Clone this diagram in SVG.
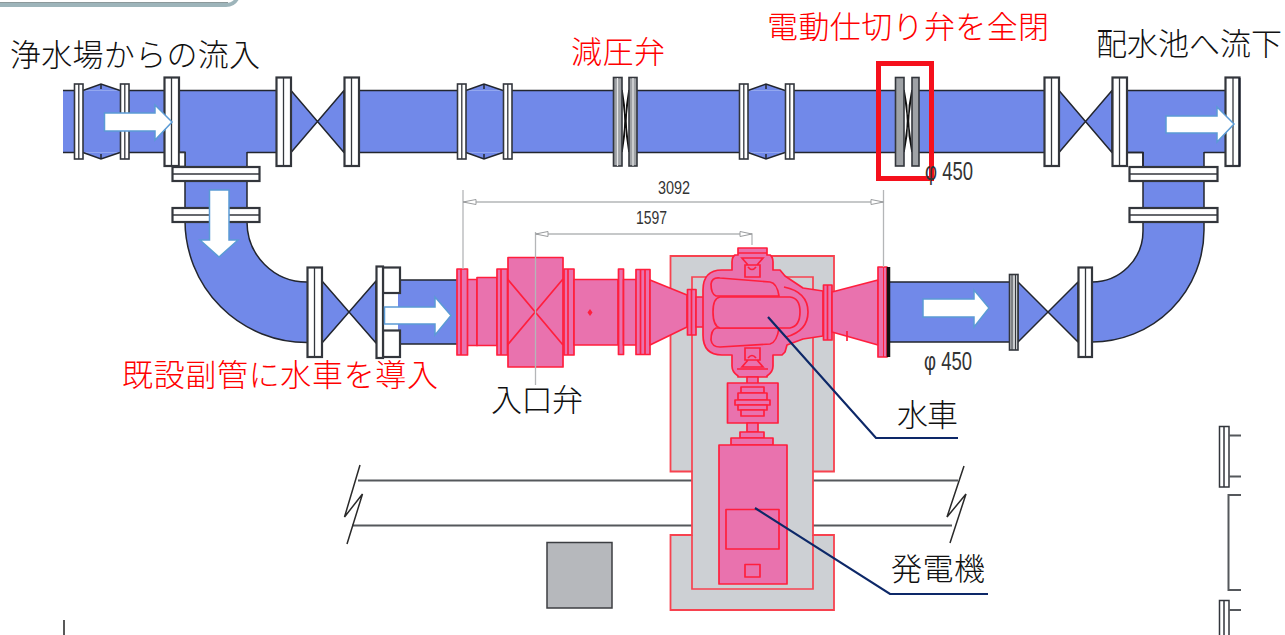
<svg xmlns="http://www.w3.org/2000/svg" width="1285" height="635" viewBox="0 0 1285 635">
<style>
.t{font-family:"Noto Sans CJK JP","Noto Sans CJK SC",sans-serif;font-size:31px;font-weight:300;fill:#111}
.r{fill:#f00}
.d{font-family:"Liberation Sans",sans-serif;font-size:18px;fill:#333}
.p{fill:#7189e9;stroke:none}
.e{fill:none;stroke:#23262e;stroke-width:1.5}
.v{fill:#7189e9;stroke:#23262e;stroke-width:1.5;stroke-linejoin:round}
.f{fill:#fff;stroke:#33363c;stroke-width:1.6}
.s{fill:#fff;stroke:#33363c;stroke-width:2.2}
.c{fill:#9fa2a6;stroke:#33363c;stroke-width:1.6}
.m{stroke:#33363c;stroke-width:1.3;fill:none}
.a{fill:#fff;stroke:#5b9bd5;stroke-width:1.5}
.k{fill:#e972ae;stroke:#ff1f3d;stroke-width:1.7;stroke-linejoin:round}
.n{fill:none;stroke:#ff1f3d;stroke-width:1.7}
.b{fill:#cdd0d4;stroke:#f7424f;stroke-width:1.8}
.g{fill:none;stroke:#b4b6b8;stroke-width:1.3}
.h{fill:#fff;stroke:#9a9c9e;stroke-width:1}
.l{fill:none;stroke:#0d2868;stroke-width:2.2}
.w{fill:none;stroke:#55585c;stroke-width:2}
.z{fill:none;stroke:#2a2a2a;stroke-width:1.5}
</style>

<g id="header-frame">
<path d="M-5,3 H226 Q233,3 236,-3 L240,-3 Q236,7 226,7 H-5Z" fill="#9db4ba"/>
<path d="M-5,2.500 H228" fill="none" stroke="#6f7f82" stroke-width="0.800"/>
</g>

<g id="beam">
<path class="w" d="M358,480.500 H692 M813,480.500 H958 M352,525.500 H692 M813,525.500 H952"/>
<path class="z" d="M360,465 L344.500,517 L362.500,494 L347,544"/>
<path class="z" d="M964,466 L947,517 L966,494 L950,543"/>
</g>

<g id="equipment-base">
<path class="b" d="M670.500,256 H834 V471.500 H813 V535 H834 V610 H670.500 V535 H692 V471.500 H670.500Z"/>
<path class="n" style="stroke:#f7424f" d="M692,471.500 V277 H813 V471.500 M692,535 V589 H813 V535"/>
</g>

<g id="box-square"><rect x="547" y="542.500" width="65" height="65.500" fill="#b6b8bc" stroke="#3c3e42" stroke-width="1.500"/></g>

<g id="main-pipe">
<rect class="p" x="63" y="90.500" width="228" height="62"/>
<rect class="p" x="344" y="90.500" width="269" height="62"/>
<rect class="p" x="637" y="90.500" width="258" height="62"/>
<rect class="p" x="919" y="90.500" width="140" height="62"/>
<rect class="p" x="1112" y="90.500" width="116" height="62"/>
<path class="p" d="M83,90.500 L101,84 L120,90.500Z M83,152.500 L101,159 L120,152.500Z M466,90.500 L484,84 L503,90.500Z M466,152.500 L484,159 L503,152.500Z M748,90.500 L766,84 L785,90.500Z M748,152.500 L766,159 L785,152.500Z"/>
<path class="e" d="M63,90.500 H74 M129,90.500 H291 M344,90.500 H457 M512,90.500 H613 M637,90.500 H739 M794,90.500 H895 M919,90.500 H1059 M1112,90.500 H1228 M63,152.500 H74 M129,152.500 H185 M247,152.500 H291 M344,152.500 H457 M512,152.500 H613 M637,152.500 H739 M794,152.500 H895 M919,152.500 H1059 M1112,152.500 H1143 M1204,152.500 H1228"/>
<path class="e" d="M83,90.500 L101,84 L120,90.500 M83,152.500 L101,159 L120,152.500 M466,90.500 L484,84 L503,90.500 M466,152.500 L484,159 L503,152.500 M748,90.500 L766,84 L785,90.500 M748,152.500 L766,159 L785,152.500"/>
<path class="e" d="M101,84 V89 M101,154 V159 M484,84 V89 M484,154 V159 M766,84 V89 M766,154 V159"/>
</g>

<g id="left-elbow">
<path class="p" d="M185,152 H247 V222 A60,60 0 0 0 307,282 V342.500 A122,122 0 0 1 185,220.500Z"/>
<path class="e" d="M185,152 V220.500 A122,122 0 0 0 307,342.500 M247,152 V222 A60,60 0 0 0 307,282"/>
<path class="e" d="M179,152.500 H185 V166"/>
</g>

<g id="right-elbow">
<path class="p" d="M1143,152 H1204 V230 A112,112 0 0 1 1092,342 V282 A51,51 0 0 0 1143,231Z"/>
<path class="e" d="M1204,152 V230 A112,112 0 0 1 1092,342 M1143,152 V231 A51,51 0 0 1 1092,282"/>
<path class="e" d="M1126,152.500 H1143 V166"/>
</g>

<g id="outlet-pipe">
<rect class="p" x="888" y="282" width="122" height="60"/>
<path class="e" d="M888,282 H1010 M888,342 H1010"/>
</g>

<g id="inlet-pipe">
<rect class="p" x="398" y="280" width="60" height="64"/>
<path class="e" d="M398,280 H458 M398,344 H458"/>
</g>

<g id="valves">
<path class="v" d="M291,90.500 L344,152.500 V90.500 L291,152.500Z"/>
<path class="v" d="M1059,90.500 L1112,152.500 V90.500 L1059,152.500Z"/>
<path class="v" d="M322,281 L376,343 V281 L322,343Z"/>
<path class="v" d="M1018,282 L1078,342 V282 L1018,342Z"/>
</g>

<g id="pressure-reducing-valve">
<path class="z" style="stroke:#111" d="M622,90 L629,152 M629,90 L622,152 M622,90 Q628,121 622,152 M629,90 Q623,121 629,152"/>
<rect class="c" x="613.500" y="77.500" width="8.500" height="88.500"/><rect class="c" x="629" y="77.500" width="8" height="88.500"/>
<path d="M617.500,78 V166 M633,78 V166" stroke="#e8e8e8" stroke-width="1.200"/>
</g>

<g id="shutoff-valve">
<path class="z" style="stroke:#111" d="M904,90 L912,152 M912,90 L904,152 M904,90 Q911,121 904,152 M912,90 Q905,121 912,152"/>
<rect class="c" x="895.500" y="77.500" width="8.500" height="88.500"/><rect class="c" x="912" y="77.500" width="7" height="88.500"/>
</g>

<g id="flanges">
<rect class="f" x="74.500" y="84" width="8.500" height="75"/><rect class="f" x="120.500" y="84" width="8.500" height="75"/>
<rect class="f" x="457.500" y="84" width="8.500" height="75"/><rect class="f" x="503.500" y="84" width="8.500" height="75"/>
<rect class="f" x="739.500" y="84" width="8.500" height="75"/><rect class="f" x="785.500" y="84" width="8.500" height="75"/>
<path class="m" d="M78.800,84 V159 M124.800,84 V159 M461.800,84 V159 M507.800,84 V159 M743.800,84 V159 M789.800,84 V159"/>
<rect class="s" x="164.500" y="77.500" width="14.500" height="88.500"/><path class="m" d="M171.500,78 V166"/>
<rect class="f" x="179" y="152.500" width="6" height="14"/>
<rect class="s" x="276.500" y="77.500" width="14.500" height="88.500"/><path class="m" d="M283.500,78 V166"/>
<rect class="s" x="344.500" y="77.500" width="14.500" height="88.500"/><path class="m" d="M351.500,78 V166"/>
<rect class="s" x="1044.500" y="77.500" width="14.500" height="88.500"/><path class="m" d="M1051.500,78 V166"/>
<rect class="s" x="1112.500" y="77.500" width="14.500" height="88.500"/><path class="m" d="M1119.500,78 V166"/>
<rect class="s" x="1225.500" y="77.500" width="14" height="88.500"/><path class="m" d="M1233,78 V166"/><path d="M1239.500,78 V166" stroke="#1d2230" stroke-width="2"/>
<rect class="s" x="172.500" y="167" width="87" height="14"/><path class="m" d="M173,174 H259"/>
<rect class="s" x="172.500" y="208" width="87" height="14"/><path class="m" d="M173,215 H259"/>
<rect class="s" x="1129.500" y="167" width="88" height="14"/><path class="m" d="M1130,174 H1217"/>
<rect class="s" x="1129.500" y="208" width="88" height="14"/><path class="m" d="M1130,215 H1217"/>
<rect class="s" x="307.500" y="267.500" width="14.500" height="89.500"/><path class="m" d="M314.500,268 V357"/>
<rect class="s" x="383" y="267.500" width="17" height="25.500"/><rect class="s" x="383" y="330.500" width="17" height="26.500"/>
<rect class="s" x="376.500" y="266.500" width="6.500" height="91.500"/>
<rect class="c" style="fill:#c9cbcd" x="1009.500" y="274.500" width="8.500" height="75.500"/><path d="M1012,275 V350 M1015.500,275 V350" stroke="#33363c" stroke-width="1"/>
<rect class="s" x="1078.500" y="267.500" width="13.500" height="89.500"/><path class="m" d="M1085.500,268 V357"/>
</g>

<g id="inlet-valve">
<rect class="k" x="467" y="279.500" width="10" height="66"/>
<rect class="k" x="477" y="277.500" width="20" height="68"/>
<rect class="k" x="457" y="269" width="10.500" height="86"/>
<path class="n" d="M461,269 V355"/>
<rect class="k" x="497" y="269" width="10.500" height="86"/>
<path class="n" d="M501,269 V355"/>
<rect class="k" x="508" y="257.500" width="55" height="109.500"/>
<path class="n" d="M507.500,279 L563,345 M563,279 L507.500,345"/>
<rect class="k" x="564" y="269" width="10" height="86"/>
<path class="n" d="M568,269 V355"/>
<rect class="k" x="574" y="279.500" width="44" height="65.500"/>
<rect class="k" x="618.500" y="269" width="5" height="85.500"/>
<rect class="k" x="623.500" y="279.500" width="13" height="65.500"/>
<rect class="k" x="636" y="269.500" width="14" height="85"/>
<path class="n" d="M640.500,270 V354 M645,270 V354"/>
<path d="M590,309 L592.500,312.500 L590,316 L587.500,312.500Z" fill="#ff1f3d"/>
</g>

<g id="turbine">
<path class="k" d="M650,280 L687,295 V327 L650,345Z"/>
<rect class="k" x="687.500" y="289.500" width="8.500" height="45.500"/>
<path class="n" d="M691.500,290 V335"/>
<rect class="k" x="696" y="297" width="8" height="30"/>
<path class="k" d="M738,255 V248 H767 V255 H770 Q773,257 773,262 V270 H780 L785,276 L803,288 L823,291 V336 L803,339 L787,345 L785,352 L782,355 H773 V366 Q773,372 767,376 V377 H738 V376 Q732,372 732,366 V355 H722 Q703,355 703,335 V290 Q703,270 722,270 H732 V262 Q732,257 735,255Z"/>
<path class="n" d="M711,284 Q712,277 720,278 L770,282 Q777,283 779,296 H716 Q711,294 711,284Z M711,340 Q712,347 720,347 L770,344 Q777,342 779,328 H716 Q711,330 711,340Z"/>
<path class="k" d="M720,297 H790 Q800,298 800,312 Q800,326 790,328 H720 Q713,326 713,312 Q713,298 720,297Z"/>
<path class="n" d="M784,287 Q808,292 808,312 Q808,331 786,337"/>
<path class="n" d="M738,253 H767 M742,258 H763 L757,265 H748Z M742,367 H763 L757,360 H748Z M745,265 H760 V277 H745Z M745,348 H760 V360 H745Z M737,369 H768 M748,267 Q752,272 756,267 M748,358 Q752,353 756,358"/>
<rect class="k" x="823.500" y="285" width="8.500" height="55"/>
<path class="n" d="M827.500,285 V340"/>
<path class="k" d="M832,292 L878,280 V345 L832,332Z"/>
<path class="n" d="M847,331 V341"/>
<rect class="k" x="878" y="267" width="9" height="90"/>
<path d="M888.500,267 V357" stroke="#111" stroke-width="3.500"/>
<path d="M883.500,267 V357" stroke="#ff1f3d" stroke-width="1"/>
</g>

<g id="coupling">
<rect class="k" x="747" y="377" width="11" height="7"/>
<rect class="k" x="727.500" y="383" width="50.500" height="40"/>
<rect class="k" x="741" y="387" width="23" height="6"/>
<rect class="k" x="738" y="393" width="29" height="7"/>
<rect class="k" x="735" y="400" width="35" height="5"/>
<rect class="k" x="738" y="405" width="29" height="5"/>
<rect class="k" x="741" y="410" width="23" height="6"/>
<rect class="k" x="747" y="423" width="11" height="9"/>
<rect class="k" x="740" y="432" width="24" height="6"/>
<rect class="k" x="731" y="438" width="42" height="7"/>
</g>

<g id="generator">
<rect class="k" x="719" y="445" width="68" height="139"/>
<rect class="k" x="726" y="509.500" width="53" height="39.500"/>
<rect class="k" x="745" y="564.500" width="15" height="12.500"/>
</g>

<g id="connectors">
<path class="g" d="M463,190 V269 M883.500,190 V267 M463,202 H883.500 M535.500,232 V385 M535.500,234 H752 V245"/>
<path class="h" d="M463,202 L476,199.500 V204.500Z M883.500,202 L871,199.500 V204.500Z M535.500,234 L548,231.500 V236.500Z M752,234 L740,231.500 V236.500Z"/>
<path class="l" d="M768,317 L876,438 H958"/>
<path class="l" d="M755,508 L890,594 H988"/>
</g>

<g id="flow-arrows">
<path class="a" d="M104.500,113 H155 V105 L172,122 L155,140 V131 H104.500Z"/>
<path class="a" d="M209.500,190 H229 V240 H238 L219,257 L200,240 H209.500Z"/>
<path class="a" d="M384.500,307 H435 V297 L451,315.500 L435,335 V324 H384.500Z"/>
<path class="a" d="M923,299 H974 V290 L989,308 L974,327 V317 H923Z"/>
<path class="a" d="M1166,116 H1217 V107 L1234,124 L1217,142 V133 H1166Z"/>
</g>

<g id="shutoff-highlight"><rect x="878.500" y="63.500" width="53" height="115" fill="none" stroke="#f5101c" stroke-width="5"/></g>

<g id="partial-right">
<path class="m" style="stroke-width:1.500" d="M1219.500,426.500 H1229 V487 H1219.500Z M1224,427 V487 M1219.500,635 V600.500 H1229 V635 M1224,601 V635"/>
<path class="w" d="M1229,435.500 H1241 M1229,476.500 H1241 M1241,495 H1228.500 V590 H1241 M1229,610 H1241"/>
<path d="M64,620 V635" stroke="#222" stroke-width="1.500"/>
</g>

<g id="labels">
<text class="t" x="10" y="66" textLength="250">浄水場からの流入</text>
<text class="t r" x="571" y="63" textLength="94">減圧弁</text>
<text class="t r" x="767" y="38" textLength="282">電動仕切り弁を全閉</text>
<text class="t" x="1096" y="55" textLength="186">配水池へ流下</text>
<text class="t r" x="122" y="386" textLength="316">既設副管に水車を導入</text>
<text class="t" x="491" y="411" textLength="92">入口弁</text>
<text class="t" x="897" y="426" textLength="61">水車</text>
<text class="t" x="891" y="580" textLength="94">発電機</text>
<text class="d" x="658" y="194" textLength="32" lengthAdjust="spacingAndGlyphs">3092</text>
<text class="d" x="636" y="224" textLength="31" lengthAdjust="spacingAndGlyphs">1597</text>
<text class="d" style="font-size:25px" x="925" y="180" textLength="48" lengthAdjust="spacingAndGlyphs">φ 450</text>
<text class="d" style="font-size:25px" x="924" y="370" textLength="48" lengthAdjust="spacingAndGlyphs">φ 450</text>
</g>
</svg>
